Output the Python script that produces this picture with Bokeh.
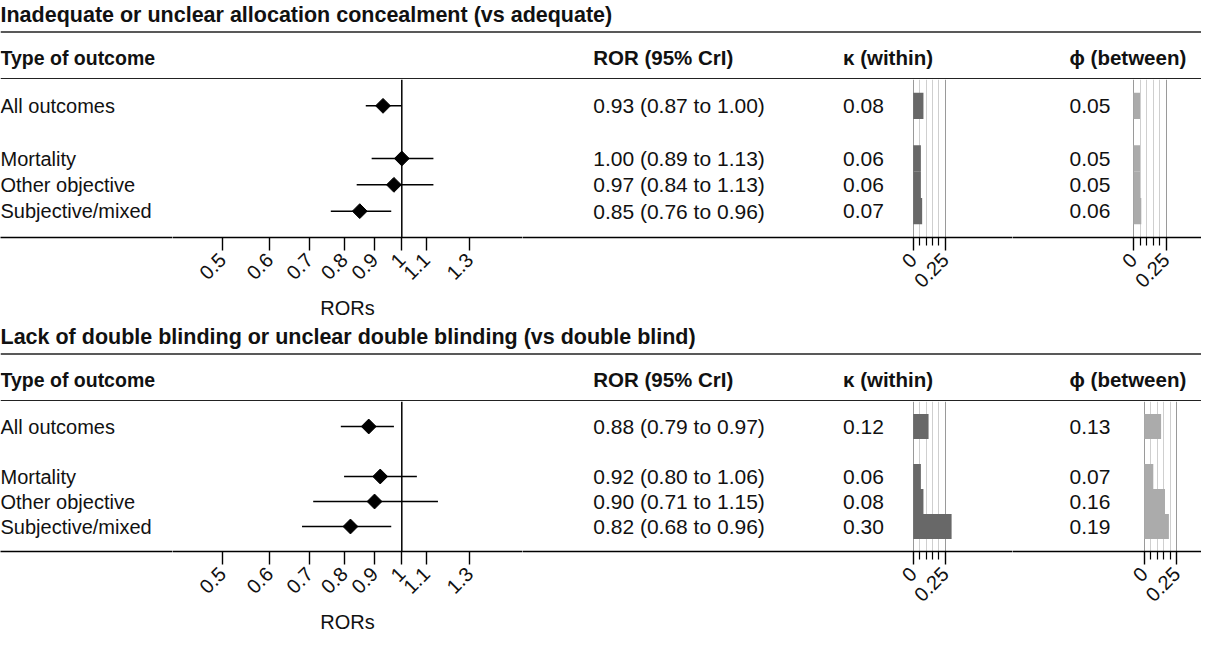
import math
from bokeh.plotting import figure
from bokeh.models import Range1d, FixedTicker, Span, LinearScale
from bokeh.layouts import column, row
from bokeh.embed import file_html
from bokeh.resources import INLINE
from bokeh.core.properties import value

# ---------------- data ----------------
outcomes = ["All outcomes", "Mortality", "Other objective", "Subjective/mixed"]
row_pos = [0, 2, 3, 4]
header_first = "Type of outcome"
headers_rest = ["ROR (95% CrI)", "\u03ba (within)", "\u03d5 (between)"]

p1_title = "Inadequate or unclear allocation concealment (vs adequate)"
p1_ror = [0.93, 1.00, 0.97, 0.85]
p1_lo = [0.87, 0.89, 0.84, 0.76]
p1_hi = [1.00, 1.13, 1.13, 0.96]
p1_kappa = [0.08, 0.06, 0.06, 0.07]
p1_phi = [0.05, 0.05, 0.05, 0.06]

p2_title = "Lack of double blinding or unclear double blinding (vs double blind)"
p2_ror = [0.88, 0.92, 0.90, 0.82]
p2_lo = [0.79, 0.80, 0.71, 0.68]
p2_hi = [0.97, 1.06, 1.15, 0.96]
p2_kappa = [0.12, 0.06, 0.08, 0.30]
p2_phi = [0.13, 0.07, 0.16, 0.19]

ror_ticks = [0.5, 0.6, 0.7, 0.8, 0.9, 1.0, 1.1, 1.3]
ror_tick_labels = ["0.5", "0.6", "0.7", "0.8", "0.9", "1", "1.1", "1.3"]
het_ticks = [0.0, 0.25]
het_tick_labels = ["0", "0.25"]
het_minor = [0.05, 0.10, 0.15, 0.20]

# ---------------- layout constants (pixels) ----------------
FONT = "Liberation Sans"
W = 1201
HEAD_H = 79
L0W, L1W, KW, PW = 172, 350, 490, 189
ONE_PX = 401.3 - L0W       # position of ROR = 1 inside forest figure
PX_PER_LN = 258.7
K_ZERO, K_SCALE = 390.7, 128.0
P_SCALE = 130.0
TXT = "#111111"


def style_axis(ax):
    ax.axis_line_color = "black"
    ax.axis_line_width = 1.3
    ax.major_tick_line_color = "black"
    ax.major_tick_line_width = 1.4
    ax.minor_tick_line_color = "black"
    ax.minor_tick_line_width = 1.2
    ax.major_tick_in = 0
    ax.major_tick_out = 13
    ax.minor_tick_in = 0
    ax.minor_tick_out = 8
    ax.major_label_orientation = math.pi / 4
    ax.major_label_text_font = FONT
    ax.major_label_text_font_size = "20px"
    ax.major_label_text_color = TXT
    ax.major_label_standoff = 6


def base_fig(width, frame_h, bottom_h, x_range, x_axis_type="linear"):
    p = figure(width=width, height=frame_h + bottom_h, x_range=x_range,
               y_range=Range1d(5, -1), x_axis_type=x_axis_type,
               y_axis_location=None, toolbar_location=None, output_backend="svg",
               min_border_left=0, min_border_right=0, min_border_top=0,
               min_border_bottom=bottom_h, outline_line_color=None,
               background_fill_color="white", border_fill_color="white")
    p.extra_x_ranges = {"px": Range1d(0, width)}
    p.extra_x_scales = {"px": LinearScale()}
    p.xgrid.visible = False
    p.ygrid.visible = False
    style_axis(p.xaxis[0])
    return p


def het_fig(width, frame_h, bottom_h, zero, scale, vals, bar_color, txt_x):
    p = base_fig(width, frame_h, bottom_h,
                 Range1d(-zero / scale, (width - zero) / scale))
    p.xaxis[0].ticker = FixedTicker(ticks=het_ticks, minor_ticks=het_minor)
    p.xaxis[0].major_label_overrides = dict(zip(het_ticks, het_tick_labels))
    p.xgrid.visible = True
    p.xgrid.ticker = FixedTicker(ticks=het_ticks, minor_ticks=het_minor)
    p.xgrid.grid_line_color = "#9a9a9a"
    p.xgrid.grid_line_width = 1
    p.xgrid.minor_grid_line_color = "#cfcfcf"
    p.xgrid.minor_grid_line_width = 1
    p.hbar(y=row_pos, left=0, right=vals, height=1.0,
           fill_color=bar_color, line_color=None)
    p.text(x=[txt_x] * len(vals), y=row_pos, text=[f"{v:.2f}" for v in vals],
           x_range_name="px", text_font=value(FONT), text_font_size="21px",
           text_baseline="middle", text_color=TXT)
    return p


def make_panel(title, ror, lo, hi, kappa, phi, frame_h, bottom_h, phi_zero):
    # header strip
    h = figure(width=W, height=HEAD_H, x_range=Range1d(0, W),
               y_range=Range1d(HEAD_H, 0), x_axis_location=None,
               y_axis_location=None, toolbar_location=None,
               output_backend="svg", min_border=0, outline_line_color=None)
    h.grid.visible = False
    h.text(x=[0], y=[14], text=[title], text_font=value(FONT),
           text_font_style="bold", text_font_size="21.5px",
           text_baseline="middle", text_color=TXT)
    h.add_layout(Span(location=31.5, dimension="width",
                      line_color="#222222", line_width=1.5))
    h.text(x=[0], y=[57], text=[header_first],
           text_font=value(FONT), text_font_style="bold",
           text_font_size="19.5px", text_baseline="middle", text_color=TXT)
    h.text(x=[592.7, 842.5, 1069], y=[57] * 3, text=headers_rest,
           text_font=value(FONT), text_font_style="bold",
           text_font_size="20.5px", text_baseline="middle", text_color=TXT)
    h.add_layout(Span(location=78.2, dimension="width",
                      line_color="#222222", line_width=1.5))

    # outcome labels
    f0 = base_fig(L0W, frame_h, bottom_h, Range1d(0, L0W))
    f0.xaxis[0].ticker = FixedTicker(ticks=[])
    f0.text(x=[0] * len(outcomes), y=row_pos, text=outcomes,
            x_range_name="px", text_font=value(FONT), text_font_size="20px",
            text_baseline="middle", text_color=TXT)

    # forest plot
    xr = Range1d(math.exp(-ONE_PX / PX_PER_LN), math.exp((L1W - ONE_PX) / PX_PER_LN))
    f1 = base_fig(L1W, frame_h, bottom_h, xr, x_axis_type="log")
    ax = f1.xaxis[0]
    ax.ticker = FixedTicker(ticks=ror_ticks, minor_ticks=[])
    ax.major_label_overrides = dict(zip(ror_ticks, ror_tick_labels))
    ax.axis_label = "RORs"
    ax.axis_label_text_font = FONT
    ax.axis_label_text_font_style = "normal"
    ax.axis_label_text_font_size = "20px"
    ax.axis_label_text_color = TXT
    ax.axis_label_standoff = 8
    f1.add_layout(Span(location=1.0, dimension="height",
                       line_color="black", line_width=1.5))
    f1.segment(x0=lo, x1=hi, y0=row_pos, y1=row_pos,
               line_color="black", line_width=1.5)
    f1.scatter(x=ror, y=row_pos, marker="square", angle=math.pi / 4,
               size=10.5, fill_color="black", line_color="black")

    # ROR text + kappa
    fk = het_fig(KW, frame_h, bottom_h, K_ZERO, K_SCALE, kappa, "#686868", 320.5)
    fk.text(x=[70.7] * len(ror), y=row_pos,
            text=[f"{r:.2f} ({a:.2f} to {b:.2f})" for r, a, b in zip(ror, lo, hi)],
            x_range_name="px", text_font=value(FONT), text_font_size="21px",
            text_baseline="middle", text_color=TXT)

    # phi
    fp = het_fig(PW, frame_h, bottom_h, phi_zero, P_SCALE, phi, "#ababab", 57)

    body = row(f0, f1, fk, fp, spacing=0)
    return column(h, body, spacing=0)


panel1 = make_panel(p1_title, p1_ror, p1_lo, p1_hi, p1_kappa, p1_phi, 159, 84, 121.0)
panel2 = make_panel(p2_title, p2_ror, p2_lo, p2_hi, p2_kappa, p2_phi, 155, 80, 131.7)
layout = column(panel1, panel2, spacing=0)

open("out.html", "w").write(file_html(layout, INLINE))
